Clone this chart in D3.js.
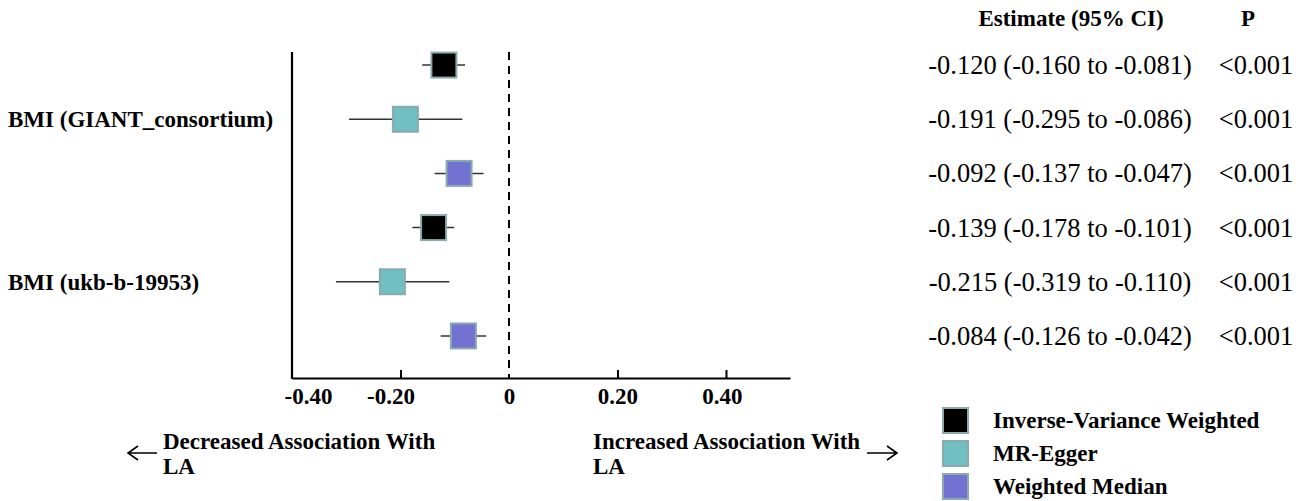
<!DOCTYPE html>
<html>
<head>
<meta charset="utf-8">
<script src="https://cdn.jsdelivr.net/npm/d3@7"></script>
<style>
  body { margin: 0; background: #fff; }
  svg text { font-family: "Liberation Serif", "Times New Roman", serif; fill: #000; }
  .bold { font-weight: bold; }
</style>
</head>
<body>
<svg id="chart" width="1304" height="501"></svg>
<script>
// data
var exposures = ['BMI (GIANT_consortium)', 'BMI (ukb-b-19953)'];
var methods = ['Inverse-Variance Weighted', 'MR-Egger', 'Weighted Median'];
var methodColors = ['#000000', '#6fbfc3', '#7272d2'];
var estimates = [-0.120, -0.191, -0.092, -0.139, -0.215, -0.084];
var lowerCI = [-0.160, -0.295, -0.137, -0.178, -0.319, -0.126];
var upperCI = [-0.081, -0.086, -0.047, -0.101, -0.110, -0.042];
var pValues = ['<0.001', '<0.001', '<0.001', '<0.001', '<0.001', '<0.001'];
var xTicks = [-0.40, -0.20, 0, 0.20, 0.40];
var xTickLabels = ['-0.40', '-0.20', '0', '0.20', '0.40'];

var svg = d3.select('#chart');

var rows = estimates.map(function(d, i){
	return {
		est: d,
		lo: lowerCI[i],
		hi: upperCI[i],
		p: pValues[i],
		method: i % 3,
		exposure: Math.floor(i / 3)
	};
});

var x = d3.scaleLinear().domain([-0.40, 0.518]).range([292, 790]);
var y = d3.scaleBand().domain(d3.range(rows.length)).range([38, 363]);
var boxSize = 25;

fmtCI = function(d){
	return d.est.toFixed(3) + ' (' + d.lo.toFixed(3) + ' to ' + d.hi.toFixed(3) + ')';
};

// axes
var xAxis = d3.axisBottom(x)
	.tickValues(xTicks)
	.tickFormat(function(d, i){ return xTickLabels[i]; })
	.tickSize(-8)
	.tickSizeOuter(0)
	.tickPadding(10);

var gx = svg.append('g')
	.attr('transform', 'translate(0,378)')
	.call(xAxis);
gx.select('.domain').attr('stroke', '#000').attr('stroke-width', 2.2);
gx.selectAll('.tick line').attr('stroke', '#000').attr('stroke-width', 2)
	.attr('display', function(d){ return (d === -0.40 || d === 0) ? 'none' : null; });
gx.selectAll('.tick text')
	.attr('class', 'bold')
	.style('font-family', '"Liberation Serif", serif')
	.style('font-size', '23px')
	.attr('fill', '#000')
	.attr('dx', function(d){
		if (d === -0.40) return 16;
		if (d === -0.20) return -10;
		if (d === 0.40) return -4;
		return 0;
	});

// y axis line
svg.append('line')
	.attr('x1', x(-0.40)).attr('x2', x(-0.40))
	.attr('y1', 52).attr('y2', 379)
	.attr('stroke', '#000').attr('stroke-width', 2.2);

// reference line at 0
svg.append('line')
	.attr('x1', x(0)).attr('x2', x(0))
	.attr('y1', 52).attr('y2', 378)
	.attr('stroke', '#000').attr('stroke-width', 2)
	.attr('stroke-dasharray', '8,6');

// exposure labels
svg.append('g').selectAll('text')
	.data(exposures)
	.enter()
	.append('text')
	.attr('class', 'bold')
	.attr('x', 8)
	.attr('y', function(d, i){ return y(i * 3 + 1) + y.bandwidth() / 2 + 8; })
	.style('font-size', '23px')
	.text(function(d){ return d; });

// CI lines and boxes
var g = svg.append('g').selectAll('g')
	.data(rows)
	.enter()
	.append('g')
	.attr('transform', function(d, i){ return 'translate(0,' + (y(i) + y.bandwidth() / 2) + ')'; });

g.append('line')
	.attr('x1', function(d){ return x(d.lo); })
	.attr('x2', function(d){ return x(d.hi); })
	.attr('stroke', '#333').attr('stroke-width', 1.5);

g.append('rect')
	.attr('x', function(d){ return x(d.est) - boxSize / 2; })
	.attr('y', -boxSize / 2)
	.attr('width', boxSize)
	.attr('height', boxSize)
	.attr('fill', function(d){ return methodColors[d.method]; })
	.attr('stroke', '#8aaaae')
	.attr('stroke-width', 2);

// right table
svg.append('text')
	.attr('class', 'bold')
	.attr('x', 1071).attr('y', 26)
	.attr('text-anchor', 'middle')
	.style('font-size', '23px')
	.text('Estimate (95% CI)');
svg.append('text')
	.attr('class', 'bold')
	.attr('x', 1248).attr('y', 26)
	.attr('text-anchor', 'middle')
	.style('font-size', '23px')
	.text('P');

g.append('text')
	.attr('x', 1060).attr('y', 9)
	.attr('text-anchor', 'middle')
	.style('font-size', '26.5px')
	.text(function(d){ return fmtCI(d); });
g.append('text')
	.attr('x', 1256).attr('y', 9)
	.attr('text-anchor', 'middle')
	.style('font-size', '26.5px')
	.text(function(d){ return d.p; });

// legend
var leg = svg.append('g').selectAll('g')
	.data(methods)
	.enter()
	.append('g')
	.attr('transform', function(d, i){ return 'translate(943,' + (408 + i * 33) + ')'; });
leg.append('rect')
	.attr('width', boxSize).attr('height', boxSize)
	.attr('fill', function(d, i){ return methodColors[i]; })
	.attr('stroke', '#8aaaae').attr('stroke-width', 2);
leg.append('text')
	.attr('class', 'bold')
	.attr('x', 50).attr('y', 20)
	.style('font-size', '23px')
	.text(function(d){ return d; });

// direction notes, with thin hand-drawn arrows
var notes = [
	{x: 163, from: 157, to: 128, lines: ['Decreased Association With', 'LA']},
	{x: 593, from: 867, to: 897, lines: ['Increased Association With', 'LA']}
];
notes.forEach(function(n){
	n.lines.forEach(function(l, i){
		svg.append('text')
			.attr('class', 'bold')
			.attr('x', n.x).attr('y', 449 + i * 25)
			.style('font-size', '23px')
			.text(l);
	});
	var dir = n.to > n.from ? 1 : -1;
	var ay = 453;
	svg.append('path')
		.attr('d', 'M' + n.from + ',' + ay + 'H' + n.to +
			'M' + (n.to - dir * 10) + ',' + (ay - 7) + 'L' + n.to + ',' + ay + 'L' + (n.to - dir * 10) + ',' + (ay + 7))
		.attr('fill', 'none')
		.attr('stroke', '#000')
		.attr('stroke-width', 1.6);
});
</script>
</body>
</html>
